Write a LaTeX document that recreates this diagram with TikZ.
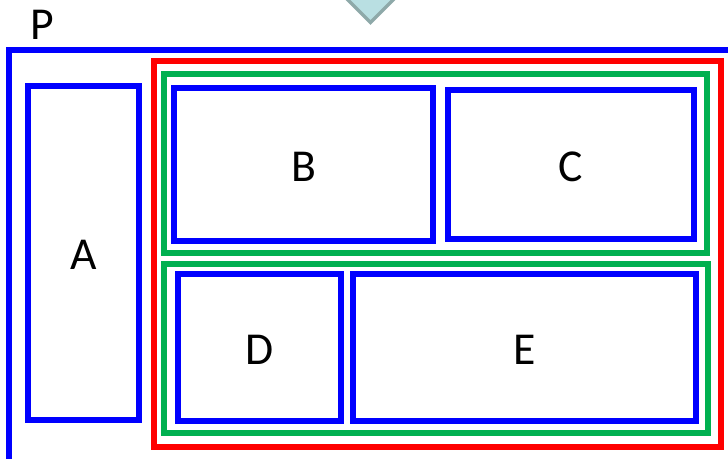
\documentclass[tikz,border=0pt]{standalone}
\usepackage{fontspec}
\setmainfont{Carlito}
\usepackage{tikz}
\usepackage{xcolor}
\usetikzlibrary{positioning, fit, calc}
\definecolor{boxblue}{HTML}{0000FF}
\definecolor{boxred}{HTML}{FF0000}
\definecolor{boxgreen}{HTML}{00B050}
\definecolor{tipfill}{HTML}{B9DFE2}
\definecolor{tipline}{HTML}{8EA9A9}

\tikzset{
  panel/.style={draw=#1, line width=3.3pt, inner sep=0pt, rectangle},
  panel/.default=boxblue,
  tag/.style={font=\fontsize{26}{30}\selectfont, inner sep=0pt},
}

\begin{document}
\begin{tikzpicture}[x=0.02cm, y=-0.02cm]
    \useasboundingbox (0,0) rectangle (728,458);
    \clip (0,0) rectangle (728,458);
    % tip of the shape above
    \draw[fill=tipfill, draw=tipline, line width=2pt, line join=miter]
      (339,-9) -- (370.5,22.5) -- (402,-9);
    % outer panel
    \node[panel, fit={(9,50) (760,490)}] (P) {};
    \node[tag] (Ptext) at (42,25) {P};
    \node[panel, fit={(28,86) (139,420)}] (A) {};
    % grouping frames
    \node[panel=boxred, fit={(154,61) (721,447)}] (right) {};
    \node[panel=boxgreen, fit={(164,74) (707,253)}] (top) {};
    \node[panel=boxgreen, fit={(164,264) (708,433)}] (bottom) {};
    % leaves
    \node[panel, fit={(174,88) (433,241)}] (B) {};
    \node[panel, fit={(448,90) (694,239)}] (C) {};
    \node[panel, fit={(178,274) (341,421)}] (D) {};
    \node[panel, fit={(353,274) (696,421)}] (E) {};
    \foreach \n in {A,B,C,D,E}
      \node[tag] (\n text) at ($(\n.center)+(0,2)$) {\n};
  \end{tikzpicture}
\end{document}
